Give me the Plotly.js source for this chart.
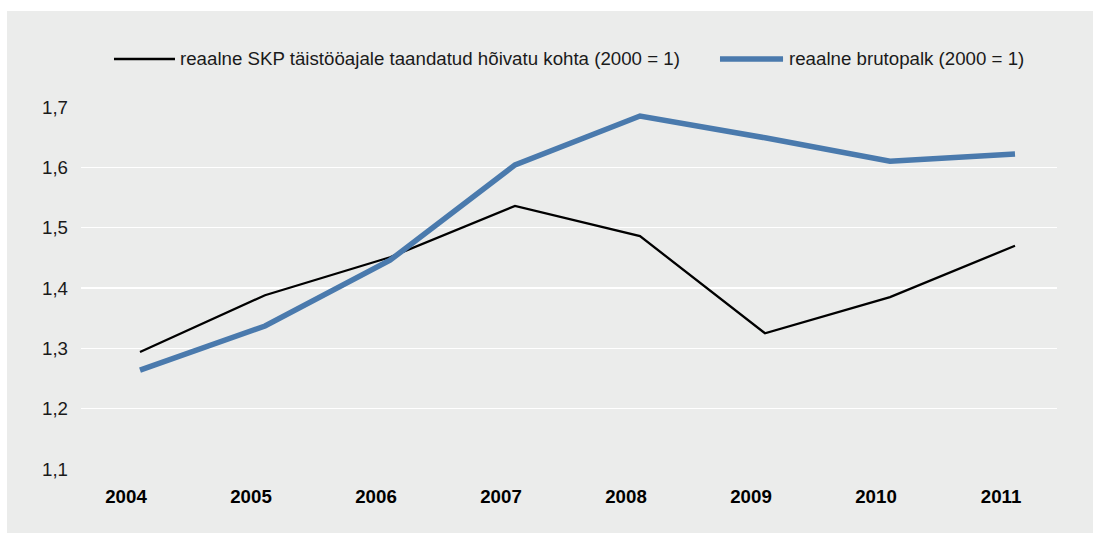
<!DOCTYPE html>
<html>
<head>
<meta charset="utf-8">
<script src="https://cdn.plot.ly/plotly-3.0.1.min.js"></script>
<style>
  body { margin: 0; background: #fff; }
  #wrap { position: relative; width: 1093px; height: 533px; background: #fff; }
  #plot { position: absolute; left: 7px; top: 11px; width: 1086px; height: 522px; }
</style>
</head>
<body>
<div id="wrap"><div id="plot"></div></div>
<script>
const years = ['2004', '2005', '2006', '2007', '2008', '2009', '2010', '2011'];
const gdpPerWorker = [1.294, 1.388, 1.451, 1.536, 1.486, 1.325, 1.385, 1.470];
const realWage = [1.264, 1.337, 1.446, 1.604, 1.685, 1.649, 1.610, 1.622];
const seriesNames = [
    'reaalne SKP täistööajale taandatud hõivatu kohta (2000 = 1)',
    'reaalne brutopalk (2000 = 1)'
];
const yTicks = [1.1, 1.2, 1.3, 1.4, 1.5, 1.6, 1.7];

const font = 'Liberation Sans, Arial, Helvetica, sans-serif';
const black = '#000000';
const blue = '#4a7aad';

const traces = [
    {
        x: years,
        y: gdpPerWorker,
        type: 'scatter',
        mode: 'lines',
        name: seriesNames[0],
        line: { color: black, width: 2.3 }
    },
    {
        x: years,
        y: realWage,
        type: 'scatter',
        mode: 'lines',
        name: seriesNames[1],
        line: { color: blue, width: 5.5 }
    }
];

// legend drawn by hand so the swatches can be as long as in the original
const legendY = 1.1326;
const swatch = (x0, x1, color, width) => ({
    type: 'line', xref: 'paper', yref: 'paper',
    x0: x0, x1: x1, y0: legendY, y1: legendY,
    line: { color: color, width: width }
});
const legendText = (x, text) => ({
    xref: 'paper', yref: 'paper', x: x, y: legendY,
    xanchor: 'left', yanchor: 'middle',
    text: text, showarrow: false,
    font: { family: font, size: 18.7, color: '#1a1a1a' }
});

const layout = {
    width: 1086,
    height: 522,
    paper_bgcolor: '#ebeceb',
    plot_bgcolor: '#ebeceb',
    separators: ', ',
    font: { family: font, size: 18.7, color: '#1a1a1a' },
    margin: { l: 74, r: 36, t: 96, b: 64 },
    showlegend: false,
    shapes: [
        swatch(0.0338, 0.0963, black, 2.3),
        swatch(0.6547, 0.7193, blue, 5.5)
    ],
    annotations: [
        legendText(0.099, seriesNames[0]),
        legendText(0.723, seriesNames[1])
    ],
    xaxis: {
        type: 'category',
        range: [-0.472, 7.336],
        showgrid: false,
        zeroline: false,
        showline: false,
        ticks: '',
        ticklabelshift: -14,
        ticklabelstandoff: 14,
        tickfont: { family: font, size: 18.7, color: '#000', weight: 'bold' }
    },
    yaxis: {
        range: [1.1, 1.7],
        tickvals: yTicks,
        tickformat: '.1f',
        showgrid: true,
        gridcolor: '#ffffff',
        gridwidth: 1.5,
        zeroline: false,
        showline: false,
        ticks: '',
        ticklabelstandoff: 12,
        tickfont: { family: font, size: 18.7, color: '#1a1a1a' }
    }
};

Plotly.newPlot('plot', traces, layout, { displayModeBar: false, staticPlot: true });
</script>
</body>
</html>
